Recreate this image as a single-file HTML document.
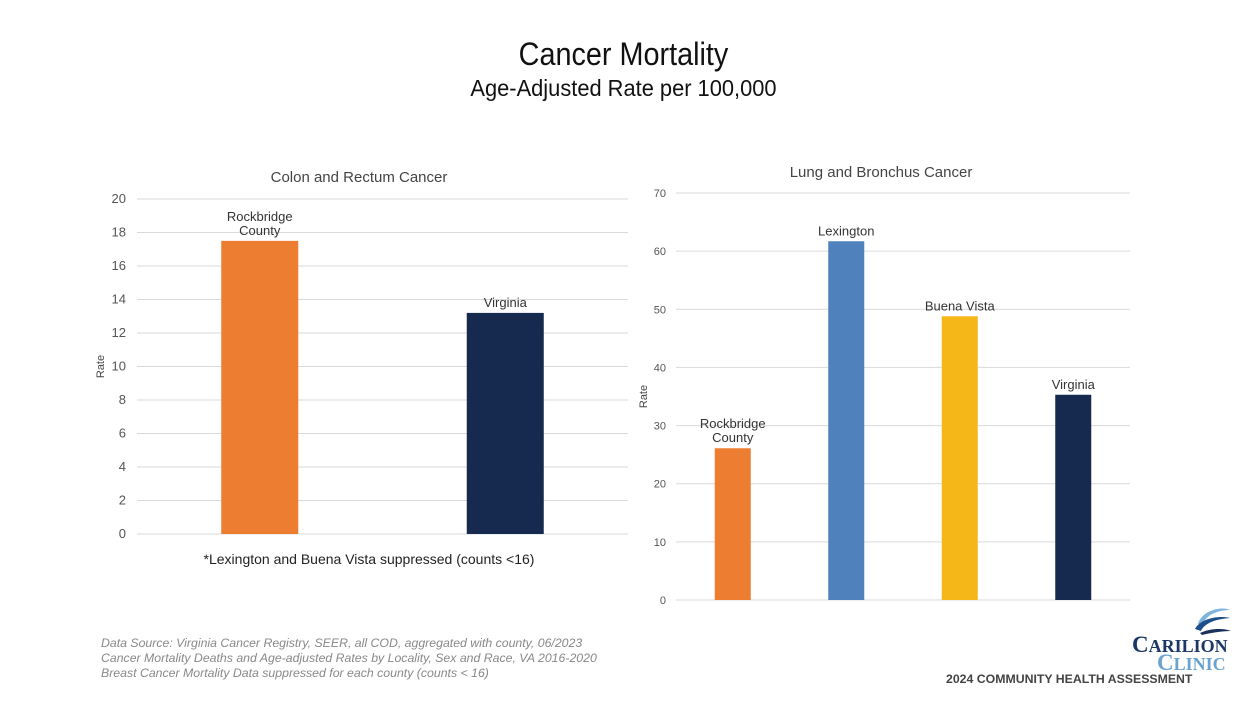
<!DOCTYPE html>
<html><head><meta charset="utf-8"><style>
body{margin:0;width:1247px;height:701px;background:#fff;overflow:hidden;font-family:"Liberation Sans",sans-serif;position:relative}
.t{position:absolute;white-space:nowrap}
</style></head><body>
<div class="t" style="left:0;width:1247px;text-align:center;top:36px;font-size:32px;color:#111;transform:scaleX(0.9)">Cancer Mortality</div>
<div class="t" style="left:0;width:1247px;text-align:center;top:75px;font-size:23px;color:#111;transform:scaleX(0.95)">Age-Adjusted Rate per 100,000</div>
<svg id="chart" width="1247" height="701" style="position:absolute;left:0;top:0" font-family="Liberation Sans, sans-serif"></svg>
<div class="t" style="left:101px;top:636px;font-size:12.3px;line-height:15px;color:#888;font-style:italic">Data Source: Virginia Cancer Registry, SEER, all COD, aggregated with county, 06/2023<br>Cancer Mortality Deaths and Age-adjusted Rates by Locality, Sex and Race, VA 2016-2020<br>Breast Cancer Mortality Data suppressed for each county (counts &lt; 16)</div>
<svg width="40" height="32" style="position:absolute;left:1192px;top:604px">
<path d="M6 20 C10 6 30 2 38 6 C28 6 14 10 11 20 Z" fill="#7fb5db"/>
<path d="M3 25 C8 15 26 11 38 14 C26 15 13 18 9 27 Z" fill="#1d4f8a"/>
<path d="M8 29 C18 24 32 24 39 27 C30 27 18 29 10 31 Z" fill="#1b2f5c"/>
</svg>
<div class="t" style="left:1132px;top:632px;font-family:'Liberation Serif',serif;font-weight:bold;font-size:23px;color:#1b3766">C<span style="font-size:18px">ARILION</span></div>
<div class="t" style="left:1157px;top:650px;font-family:'Liberation Serif',serif;font-weight:bold;font-size:23px;color:#6aa3cf">C<span style="font-size:18px">LINIC</span></div>
<div class="t" style="left:946px;top:672px;font-size:12.3px;font-weight:bold;color:#444">2024 COMMUNITY HEALTH ASSESSMENT</div>
<script>
const leftCats=["Rockbridge|County","Virginia"];
const leftVals=[17.5,13.2];
const leftColors=["#ed7d31","#152a4e"];
const leftTicks=[0,2,4,6,8,10,12,14,16,18,20];
const rightCats=["Rockbridge|County","Lexington","Buena Vista","Virginia"];
const rightVals=[26.1,61.7,48.8,35.3];
const rightColors=["#ed7d31","#4f81bd","#f5b618","#152a4e"];
const rightTicks=[0,10,20,30,40,50,60,70];
const svg=document.getElementById('chart');
const NS='http://www.w3.org/2000/svg';
function mk(tag,attrs,text){const e=document.createElementNS(NS,tag);for(const k in attrs)e.setAttribute(k,attrs[k]);if(text!==undefined)e.textContent=text;svg.appendChild(e);return e;}
function chart(cfg){
  const y=v=>cfg.y0-(v/cfg.max)*(cfg.y0-cfg.y1);
  const bw=(cfg.x1-cfg.x0)/cfg.cats.length;
  cfg.ticks.forEach(t=>{
    const l=mk('line',{x1:cfg.x0,x2:cfg.x1,y1:y(t),y2:y(t),stroke:'#d9d9d9','stroke-width':1});
    
    
    const tx=mk('text',{x:cfg.tx,y:y(t)+4,'text-anchor':'end','font-size':cfg.fs,fill:'#555'},t);
    
    
  });
  cfg.cats.forEach((c,i)=>{
    const cx=cfg.x0+bw*(i+0.5);
    const r=mk('rect',{x:cx-cfg.w/2,y:y(cfg.vals[i]),width:cfg.w,height:y(0)-y(cfg.vals[i]),fill:cfg.colors[i]});
    
    
    const lines=c.split('|');
    lines.forEach((ln,j)=>{
      const tt=mk('text',{x:cx,y:y(cfg.vals[i])-6-(lines.length-1-j)*14,'text-anchor':'middle','font-size':13,fill:'#333'},ln);
      
      
    });
  });
  const ti=mk('text',{x:cfg.titleX,y:cfg.titleY,'text-anchor':'middle','font-size':15,fill:'#444'},cfg.title);
  
  
  const ax=mk('text',{x:0,y:0,'text-anchor':'middle','font-size':11,fill:'#444',transform:`translate(${cfg.axX},${(cfg.y0+cfg.y1)/2}) rotate(-90)`},'Rate');
  
  
}
chart({id:'colon',cats:leftCats,vals:leftVals,colors:leftColors,ticks:leftTicks,max:20,x0:137,x1:628,y0:534,y1:199,w:77,tx:126,fs:13,title:'Colon and Rectum Cancer',titleX:359,titleY:182,axX:104});
chart({id:'lung',cats:rightCats,vals:rightVals,colors:rightColors,ticks:rightTicks,max:70,x0:676,x1:1130,y0:600,y1:193,w:36,tx:666,fs:11,title:'Lung and Bronchus Cancer',titleX:881,titleY:177,axX:647});
const n=mk('text',{x:369,y:564,'text-anchor':'middle','font-size':14,fill:'#222'},'*Lexington and Buena Vista suppressed (counts <16)');


</script>
</body></html>
